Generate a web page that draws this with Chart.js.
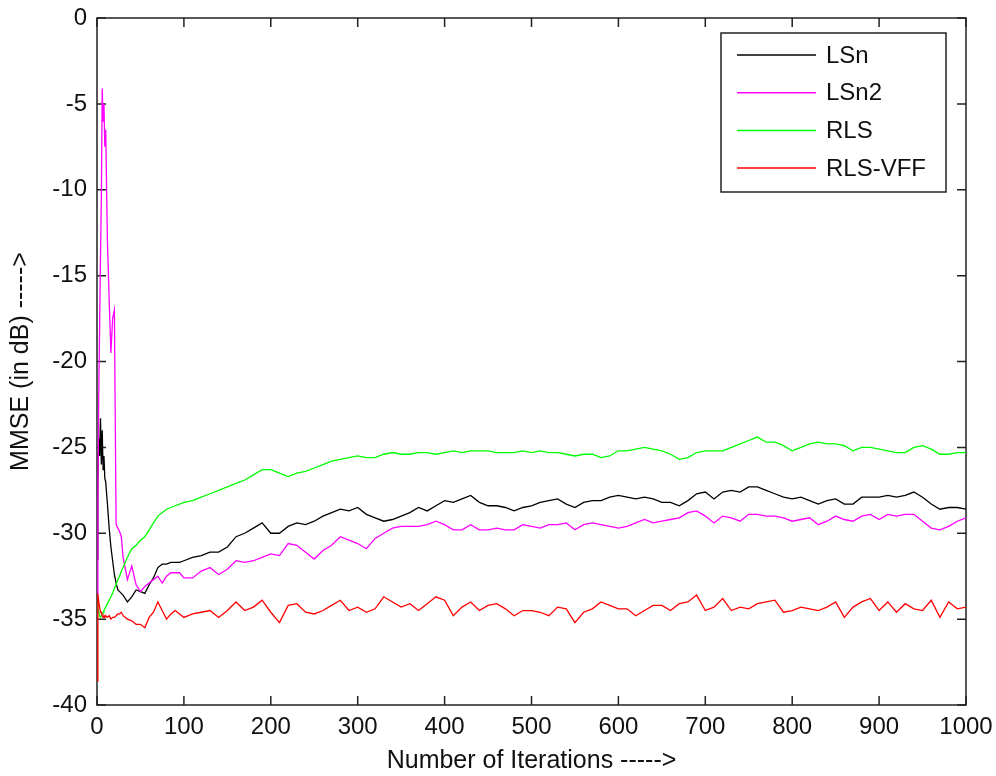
<!DOCTYPE html>
<html><head><meta charset="utf-8">
<script src="https://cdn.jsdelivr.net/npm/chart.js@4.4.1/dist/chart.umd.min.js"></script>
<style>html,body{margin:0;padding:0;background:#fff;}canvas{display:block;}</style>
</head><body>
<canvas id="c" width="996" height="776"></canvas>
<script>
// ---- data ----
const iterations = [0,1,2,3,4,5,6,7,8,9,10,12,14,16,18,20,22,24,26,28,30,
  35,40,45,50,55,60,65,70,75,80,85,90,95,100,110,120,130,140,150,160,170,180,190,200,
  210,220,230,240,250,260,270,280,290,300,310,320,330,340,350,360,370,380,390,400,
  410,420,430,440,450,460,470,480,490,500,510,520,530,540,550,560,570,580,590,600,
  610,620,630,640,650,660,670,680,690,700,710,720,730,740,750,760,770,780,790,800,
  810,820,830,840,850,860,870,880,890,900,910,920,930,940,950,960,970,980,990,1000];

const seriesNames = ['LSn','LSn2','RLS','RLS-VFF'];

const lsn = [-31.5,-27,-24.5,-25.5,-23.3,-26,-24,-26.3,-25.5,-26.8,-27,
  -28.3,-29.7,-30.8,-31.6,-32.4,-32.9,-33.3,-33.4,-33.5,-33.6,
  -34.0,-33.7,-33.3,-33.4,-33.5,-33.0,-32.6,-32.0,-31.8,-31.8,-31.7,-31.7,-31.7,-31.6,
  -31.4,-31.3,-31.1,-31.1,-30.8,-30.2,-30.0,-29.7,-29.4,-30.0,
  -30.0,-29.6,-29.4,-29.5,-29.3,-29.0,-28.8,-28.6,-28.7,-28.5,
  -28.9,-29.1,-29.3,-29.2,-29.0,-28.8,-28.5,-28.7,-28.4,-28.1,
  -28.2,-28.0,-27.8,-28.2,-28.4,-28.4,-28.5,-28.7,-28.5,-28.4,
  -28.2,-28.1,-28.0,-28.3,-28.5,-28.2,-28.1,-28.1,-27.9,-27.8,
  -27.9,-28.0,-27.9,-28.0,-28.2,-28.2,-28.4,-28.1,-27.7,-27.6,
  -28.0,-27.6,-27.5,-27.6,-27.3,-27.3,-27.5,-27.7,-27.9,-28.0,
  -27.9,-28.1,-28.3,-28.1,-28.0,-28.3,-28.3,-27.9,-27.9,-27.9,
  -27.8,-27.9,-27.8,-27.6,-27.9,-28.3,-28.6,-28.5,-28.5,-28.6];

const lsn2 = [-33.5,-28,-22,-18,-14,-10.5,-4.1,-6,-5,-7.5,-6.5,
  -13,-16.4,-19.5,-17.5,-17,-29.5,-29.7,-29.9,-30.2,-31.4,
  -32.7,-31.9,-33.0,-33.4,-33.1,-32.9,-32.7,-32.5,-32.9,-32.5,-32.3,-32.3,-32.3,-32.6,
  -32.6,-32.2,-32.0,-32.4,-32.1,-31.6,-31.7,-31.6,-31.4,-31.2,
  -31.3,-30.6,-30.7,-31.1,-31.5,-31.0,-30.7,-30.2,-30.4,-30.6,
  -30.9,-30.3,-30.0,-29.7,-29.6,-29.6,-29.6,-29.5,-29.3,-29.5,
  -29.8,-29.8,-29.5,-29.8,-29.8,-29.7,-29.8,-29.8,-29.5,-29.6,
  -29.7,-29.5,-29.5,-29.4,-29.8,-29.5,-29.4,-29.5,-29.6,-29.7,
  -29.6,-29.4,-29.2,-29.4,-29.3,-29.2,-29.1,-28.8,-28.7,-29.0,
  -29.4,-29.0,-29.1,-29.3,-28.9,-28.9,-29.0,-29.0,-29.1,-29.3,
  -29.2,-29.1,-29.5,-29.3,-29.0,-29.2,-29.3,-29.0,-28.9,-29.2,
  -28.9,-29.0,-28.9,-28.9,-29.3,-29.7,-29.8,-29.6,-29.3,-29.1];

const rls = [-34.0,-34.3,-34.6,-34.8,-34.9,-34.8,-34.7,-34.6,-34.5,-34.4,-34.3,
  -34.1,-33.9,-33.7,-33.5,-33.2,-33.0,-32.7,-32.5,-32.2,-32.0,
  -31.4,-30.9,-30.7,-30.4,-30.2,-29.8,-29.4,-29.0,-28.8,-28.6,-28.5,-28.4,-28.3,-28.2,
  -28.1,-27.9,-27.7,-27.5,-27.3,-27.1,-26.9,-26.6,-26.3,-26.3,
  -26.5,-26.7,-26.5,-26.4,-26.2,-26.0,-25.8,-25.7,-25.6,-25.5,
  -25.6,-25.6,-25.4,-25.3,-25.4,-25.4,-25.3,-25.3,-25.4,-25.3,
  -25.2,-25.3,-25.2,-25.2,-25.2,-25.3,-25.3,-25.3,-25.2,-25.3,
  -25.2,-25.3,-25.3,-25.4,-25.5,-25.4,-25.4,-25.6,-25.5,-25.2,
  -25.2,-25.1,-25.0,-25.1,-25.2,-25.4,-25.7,-25.6,-25.3,-25.2,
  -25.2,-25.2,-25.0,-24.8,-24.6,-24.4,-24.7,-24.7,-24.9,-25.2,
  -25.0,-24.8,-24.7,-24.8,-24.8,-24.9,-25.2,-25.0,-25.0,-25.1,
  -25.2,-25.3,-25.3,-25.0,-24.9,-25.1,-25.4,-25.4,-25.3,-25.3];

const rlsVff = [-38.6,-33.5,-34.0,-34.3,-34.6,-34.6,-34.8,-34.9,-34.8,-34.9,-34.8,
  -34.9,-34.8,-35.0,-34.9,-34.9,-34.8,-34.7,-34.7,-34.6,-34.8,
  -35.0,-35.1,-35.3,-35.3,-35.5,-34.9,-34.6,-34.0,-34.5,-35.0,-34.7,-34.5,-34.7,-34.9,
  -34.7,-34.6,-34.5,-34.9,-34.5,-34.0,-34.5,-34.3,-33.9,-34.6,
  -35.2,-34.2,-34.1,-34.6,-34.7,-34.5,-34.2,-33.9,-34.5,-34.3,
  -34.6,-34.4,-33.7,-34.0,-34.3,-34.1,-34.5,-34.1,-33.7,-33.9,
  -34.8,-34.3,-34.0,-34.5,-34.2,-34.1,-34.4,-34.8,-34.5,-34.5,
  -34.6,-34.8,-34.3,-34.4,-35.2,-34.6,-34.4,-34.0,-34.2,-34.4,
  -34.4,-34.8,-34.5,-34.2,-34.2,-34.5,-34.1,-34.0,-33.6,-34.5,
  -34.3,-33.8,-34.5,-34.3,-34.4,-34.1,-34.0,-33.9,-34.6,-34.5,
  -34.3,-34.4,-34.5,-34.3,-34.0,-34.9,-34.3,-34.0,-33.8,-34.5,
  -34.0,-34.6,-34.1,-34.4,-34.5,-33.9,-34.9,-34.0,-34.4,-34.3];

const xTickValues = [0,100,200,300,400,500,600,700,800,900,1000];
const yTickValues = [-40,-35,-30,-25,-20,-15,-10,-5,0];
const xTitle = 'Number of Iterations ----->';
const yTitle = 'MMSE (in dB) ----->';

// ---- chart ----
const FONT = "'Liberation Sans', Arial, sans-serif";
const colors = ['#000000', '#ff00ff', '#00ff00', '#ff0000'];
const allSeries = [lsn, lsn2, rls, rlsVff];

const toPts = arr => iterations.map((x, i) => ({x: x, y: arr[i]}));

const frame = {
  id: 'frame',
  beforeDatasetsDraw(chart) {
    const {ctx, chartArea: a, scales} = chart;
    ctx.save();
    ctx.strokeStyle = '#222';
    ctx.lineWidth = 1.5;
    ctx.strokeRect(a.left, a.top, a.right - a.left, a.bottom - a.top);
    const L = 9;
    ctx.beginPath();
    scales.x.ticks.forEach(t => {
      const px = scales.x.getPixelForValue(t.value);
      ctx.moveTo(px, a.bottom); ctx.lineTo(px, a.bottom - L);
      ctx.moveTo(px, a.top); ctx.lineTo(px, a.top + L);
    });
    scales.y.ticks.forEach(t => {
      const py = scales.y.getPixelForValue(t.value);
      ctx.moveTo(a.left, py); ctx.lineTo(a.left + L, py);
      ctx.moveTo(a.right, py); ctx.lineTo(a.right - L, py);
    });
    ctx.stroke();
    ctx.restore();
  },
  afterDatasetsDraw(chart) {
    const {ctx, chartArea: a} = chart;
    const w = 225, h = 159;
    const bx = a.right - 20 - w, by = a.top + 15;
    ctx.save();
    ctx.fillStyle = '#fff';
    ctx.fillRect(bx, by, w, h);
    ctx.strokeStyle = '#222';
    ctx.lineWidth = 1.5;
    ctx.strokeRect(bx, by, w, h);
    ctx.font = '24px ' + FONT;
    ctx.textBaseline = 'middle';
    ctx.textAlign = 'left';
    chart.data.datasets.forEach((ds, i) => {
      const ry = by + 22 + i * 37.7;
      ctx.strokeStyle = ds.borderColor;
      ctx.lineWidth = 1.5;
      ctx.beginPath();
      ctx.moveTo(bx + 16, ry); ctx.lineTo(bx + 95, ry);
      ctx.stroke();
      ctx.fillStyle = '#111';
      ctx.fillText(ds.label, bx + 105, ry + 1);
    });
    ctx.restore();
  }
};

new Chart(document.getElementById('c'), {
  type: 'line',
  data: {
    datasets: seriesNames.map((name, i) => ({
      label: name,
      data: toPts(allSeries[i]),
      borderColor: colors[i],
      backgroundColor: colors[i],
      borderWidth: 1.3,
      pointRadius: 0,
      tension: 0,
      fill: false,
      order: 4 - i
    }))
  },
  options: {
    responsive: false,
    animation: false,
    devicePixelRatio: 1,
    layout: {padding: {top: 18, right: 30, left: 0, bottom: 0}},
    plugins: {legend: {display: false}, tooltip: {enabled: false}},
    scales: {
      x: {
        type: 'linear', min: 0, max: 1000,
        afterBuildTicks: s => { s.ticks = xTickValues.map(v => ({value: v})); },
        afterFit: s => { s.height = 71; s.paddingLeft = 0; s.paddingRight = 0; },
        grid: {display: false, drawTicks: false},
        border: {display: false},
        ticks: {autoSkip: false, maxRotation: 0, padding: 8, color: '#111',
                callback: v => String(v),
                font: {family: FONT, size: 24}},
        title: {display: true, text: xTitle, color: '#111',
                font: {family: FONT, size: 25}, padding: {top: 0, bottom: 0}}
      },
      y: {
        type: 'linear', min: -40, max: 0,
        afterBuildTicks: s => { s.ticks = yTickValues.map(v => ({value: v})); },
        afterFit: s => { s.width = 97; s.paddingTop = 0; s.paddingBottom = 0; },
        grid: {display: false, drawTicks: false},
        border: {display: false},
        ticks: {autoSkip: false, padding: 10, color: '#111',
                callback: v => String(v),
                font: {family: FONT, size: 24}},
        title: {display: true, text: yTitle, color: '#111',
                font: {family: FONT, size: 25}, padding: {top: 6, bottom: 0}}
      }
    }
  },
  plugins: [frame]
});
</script>
</body></html>
